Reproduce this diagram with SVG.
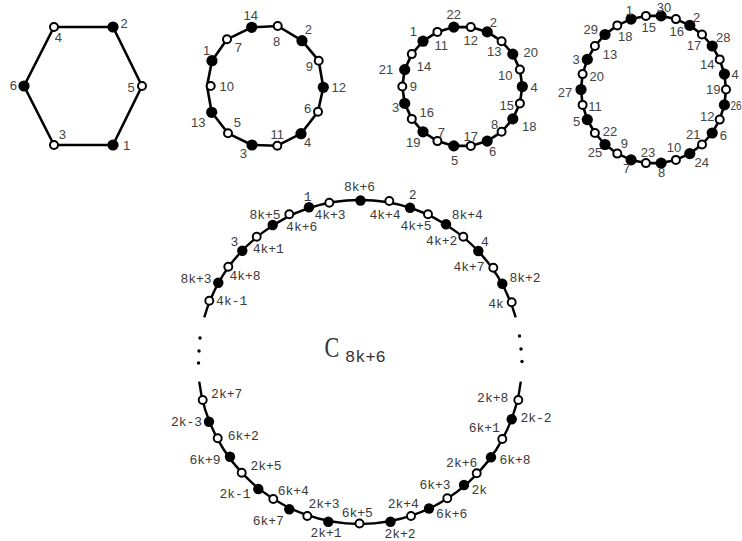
<svg xmlns="http://www.w3.org/2000/svg" xmlns:xlink="http://www.w3.org/1999/xlink" width="742" height="541" viewBox="0 0 742 541">
<defs>
<style>
.e{fill:none;stroke:#000;stroke-width:2.6;stroke-linejoin:round}
.eb{fill:none;stroke:#000;stroke-width:2.4}
.s{font-family:"Liberation Sans",Arial,sans-serif;font-size:13px;fill:#444;text-anchor:middle}
.m{font-family:"Liberation Mono","Courier New",monospace;font-size:13px;fill:#3a3a3a;text-anchor:middle}
.t{font-family:"Liberation Mono","Courier New",monospace;fill:#333}
</style>
<circle id="F" r="5.6" fill="#000"/>
<circle id="O" r="4" fill="#fff" stroke="#000" stroke-width="2"/>
<circle id="f" r="5.2" fill="#000"/>
<circle id="o" r="4" fill="#fff" stroke="#000" stroke-width="1.9"/>
</defs>
<rect width="742" height="541" fill="#fff"/>
<g id="connectors">
<polygon class="e" points="113,27 142,86 113,145 54,145 24,86 54,27"/>
<polygon class="e" points="251.7,27.3 277.7,26 302,40.7 318.7,60.7 323.3,87.3 318,111.7 301,133.7 277.3,145.7 252,145 228,133.3 211.7,112.3 207,86 212,60.7 227,39.3"/>
<polygon class="e" points="522.3,86.5 519.9,69.6 512.8,54.1 501.6,41.2 487.2,31.9 470.8,27.1 453.8,27.1 437.4,31.9 423,41.2 411.8,54.1 404.7,69.6 402.3,86.5 404.7,103.4 411.8,118.9 423,131.8 437.4,141.1 453.8,145.9 470.8,145.9 487.2,141.1 501.6,131.8 512.8,118.9 519.9,103.4"/>
<polygon class="e" points="726,89.5 724.4,74.1 719.7,59.4 712.2,46 702,34.5 689.8,25.4 675.9,19.1 661.1,15.9 645.9,15.9 631.1,19.1 617.3,25.4 605,34.5 594.9,46 587.3,59.4 582.6,74.1 581,89.5 582.6,104.9 587.3,119.6 594.9,133 605,144.5 617.3,153.6 631.1,159.9 645.9,163.1 661.1,163.1 675.9,159.9 689.8,153.6 702,144.5 712.2,133 719.7,119.6 724.4,104.9"/>
<path class="eb" d="M204.3,317.3 A162,162 0 0 1 515.7,317.3"/>
<path class="eb" d="M520.8,381.7 A162,162 0 0 1 199.2,381.7"/>
<g fill="#000">
<circle cx="200" cy="338" r="1.7"/><circle cx="199" cy="351" r="1.7"/><circle cx="198.5" cy="363" r="1.7"/>
<circle cx="519.5" cy="336" r="1.7"/><circle cx="521" cy="349" r="1.7"/><circle cx="522" cy="361.5" r="1.7"/>
</g>
</g>
<g id="c6">
<g id="a2"><use href="#F" x="113" y="27"/><text class="s" x="124" y="28">2</text></g>
<g id="a5"><use href="#O" x="142" y="86"/><text class="s" x="131" y="92">5</text></g>
<g id="a1"><use href="#F" x="113" y="145"/><text class="s" x="126.7" y="150">1</text></g>
<g id="a3"><use href="#O" x="54" y="145"/><text class="s" x="62.3" y="138.5">3</text></g>
<g id="a6"><use href="#F" x="24" y="86"/><text class="s" x="13.3" y="90">6</text></g>
<g id="a4"><use href="#O" x="54" y="27"/><text class="s" x="58.3" y="42">4</text></g>
</g>
<g id="c14">
<g id="b14"><use href="#F" x="251.7" y="27.3"/><text class="s" x="250.7" y="19.6">14</text></g>
<g id="b8"><use href="#O" x="277.7" y="26"/><text class="s" x="276.7" y="45.6">8</text></g>
<g id="b2"><use href="#F" x="302" y="40.7"/><text class="s" x="308.3" y="34">2</text></g>
<g id="b9"><use href="#O" x="318.7" y="60.7"/><text class="s" x="309.3" y="71.3">9</text></g>
<g id="b12"><use href="#F" x="323.3" y="87.3"/><text class="s" x="338.7" y="92">12</text></g>
<g id="b6"><use href="#O" x="318" y="111.7"/><text class="s" x="307.7" y="113.3">6</text></g>
<g id="b4"><use href="#F" x="301" y="133.7"/><text class="s" x="307.7" y="147.3">4</text></g>
<g id="b11"><use href="#O" x="277.3" y="145.7"/><text class="s" x="277.3" y="139">11</text></g>
<g id="b3"><use href="#F" x="252" y="145"/><text class="s" x="243.3" y="158">3</text></g>
<g id="b5"><use href="#O" x="228" y="133.3"/><text class="s" x="237.3" y="127">5</text></g>
<g id="b13"><use href="#F" x="211.7" y="112.3"/><text class="s" x="198.3" y="127.3">13</text></g>
<g id="b10"><use href="#O" x="210.7" y="86"/><text class="s" x="226.7" y="91.3">10</text></g>
<g id="b1"><use href="#F" x="212" y="60.7"/><text class="s" x="206.7" y="54.6">1</text></g>
<g id="b7"><use href="#O" x="227" y="39.3"/><text class="s" x="238.3" y="52">7</text></g>
</g>
<g id="c22">
<g id="d4"><use href="#F" x="522.3" y="86.5"/><text class="s" x="534" y="92">4</text></g>
<g id="d10"><use href="#O" x="519.9" y="69.6"/><text class="s" x="505.3" y="80.3">10</text></g>
<g id="d20"><use href="#F" x="512.8" y="54.1"/><text class="s" x="530.7" y="57">20</text></g>
<g id="d13"><use href="#O" x="501.6" y="41.2"/><text class="s" x="494.3" y="56">13</text></g>
<g id="d2"><use href="#F" x="487.2" y="31.9"/><text class="s" x="493.3" y="26.6">2</text></g>
<g id="d12"><use href="#O" x="470.8" y="27.1"/><text class="s" x="470.7" y="45.3">12</text></g>
<g id="d22"><use href="#F" x="453.8" y="27.1"/><text class="s" x="453.7" y="19">22</text></g>
<g id="d11"><use href="#O" x="437.4" y="31.9"/><text class="s" x="441.3" y="50">11</text></g>
<g id="d1"><use href="#F" x="423" y="41.2"/><text class="s" x="413.3" y="35.6">1</text></g>
<g id="d14"><use href="#O" x="411.8" y="54.1"/><text class="s" x="424" y="71.3">14</text></g>
<g id="d21"><use href="#F" x="404.7" y="69.6"/><text class="s" x="386" y="74">21</text></g>
<g id="d9"><use href="#O" x="402.3" y="86.5"/><text class="s" x="413.3" y="91.3">9</text></g>
<g id="d3"><use href="#F" x="404.7" y="103.4"/><text class="s" x="395.7" y="112.3">3</text></g>
<g id="d16"><use href="#O" x="411.8" y="118.9"/><text class="s" x="426.7" y="117.3">16</text></g>
<g id="d19"><use href="#F" x="423" y="131.8"/><text class="s" x="413.3" y="146.6">19</text></g>
<g id="d7"><use href="#O" x="437.4" y="141.1"/><text class="s" x="441.3" y="136.6">7</text></g>
<g id="d5"><use href="#F" x="453.8" y="145.9"/><text class="s" x="454.7" y="164.6">5</text></g>
<g id="d17"><use href="#O" x="470.8" y="145.9"/><text class="s" x="470.7" y="141.3">17</text></g>
<g id="d6"><use href="#F" x="487.2" y="141.1"/><text class="s" x="492.7" y="156.3">6</text></g>
<g id="d8"><use href="#O" x="501.6" y="131.8"/><text class="s" x="494.7" y="129.3">8</text></g>
<g id="d18"><use href="#F" x="512.8" y="118.9"/><text class="s" x="529.3" y="130.6">18</text></g>
<g id="d15"><use href="#O" x="519.9" y="103.4"/><text class="s" x="506.7" y="109.6">15</text></g>
</g>
<g id="c30">
<g id="g19"><use href="#O" x="726" y="89.5"/><text class="s" x="713.3" y="94">19</text></g>
<g id="g4"><use href="#F" x="724.4" y="74.1"/><text class="s" x="735" y="78.6">4</text></g>
<g id="g14"><use href="#O" x="719.7" y="59.4"/><text class="s" x="707.3" y="69">14</text></g>
<g id="g28"><use href="#F" x="712.2" y="46"/><text class="s" x="723.3" y="42">28</text></g>
<g id="g17"><use href="#O" x="702" y="34.5"/><text class="s" x="694" y="50.3">17</text></g>
<g id="g2"><use href="#F" x="689.8" y="25.4"/><text class="s" x="696.7" y="22">2</text></g>
<g id="g16"><use href="#O" x="675.9" y="19.1"/><text class="s" x="676.7" y="36.3">16</text></g>
<g id="g30"><use href="#F" x="661.1" y="15.9"/><text class="s" x="664" y="12">30</text></g>
<g id="g15"><use href="#O" x="645.9" y="15.9"/><text class="s" x="648.7" y="32.3">15</text></g>
<g id="g1"><use href="#F" x="631.1" y="19.1"/><text class="s" x="629.3" y="14.6">1</text></g>
<g id="g18"><use href="#O" x="617.3" y="25.4"/><text class="s" x="625.3" y="41.3">18</text></g>
<g id="g29"><use href="#F" x="605" y="34.5"/><text class="s" x="590.7" y="34">29</text></g>
<g id="g13"><use href="#O" x="594.9" y="46"/><text class="s" x="610" y="59">13</text></g>
<g id="g3"><use href="#F" x="587.3" y="59.4"/><text class="s" x="576" y="64">3</text></g>
<g id="g20"><use href="#O" x="582.6" y="74.1"/><text class="s" x="596.7" y="81.3">20</text></g>
<g id="g27"><use href="#F" x="581" y="89.5"/><text class="s" x="565" y="97.3">27</text></g>
<g id="g11"><use href="#O" x="582.6" y="104.9"/><text class="s" x="595" y="111.3">11</text></g>
<g id="g5"><use href="#F" x="587.3" y="119.6"/><text class="s" x="576.7" y="126.3">5</text></g>
<g id="g22"><use href="#O" x="594.9" y="133"/><text class="s" x="610" y="136.3">22</text></g>
<g id="g25"><use href="#F" x="605" y="144.5"/><text class="s" x="595" y="157.3">25</text></g>
<g id="g9"><use href="#O" x="617.3" y="153.6"/><text class="s" x="624.3" y="148">9</text></g>
<g id="g7"><use href="#F" x="631.1" y="159.9"/><text class="s" x="626.7" y="173">7</text></g>
<g id="g23"><use href="#O" x="645.9" y="163.1"/><text class="s" x="648" y="157.3">23</text></g>
<g id="g8"><use href="#F" x="661.1" y="163.1"/><text class="s" x="661.7" y="177.3">8</text></g>
<g id="g10"><use href="#O" x="675.9" y="159.9"/><text class="s" x="674" y="152.3">10</text></g>
<g id="g24"><use href="#F" x="689.8" y="153.6"/><text class="s" x="701.7" y="167">24</text></g>
<g id="g21"><use href="#O" x="702" y="144.5"/><text class="s" x="693.3" y="138.6">21</text></g>
<g id="g6"><use href="#F" x="712.2" y="133"/><text class="s" x="723.3" y="139.6">6</text></g>
<g id="g12"><use href="#O" x="719.7" y="119.6"/><text class="s" x="707.3" y="120.6">12</text></g>
<g id="g26"><use href="#F" x="724.4" y="104.9"/><text class="s" x="730.5" y="110.3" font-size="12" text-anchor="start" textLength="11" lengthAdjust="spacingAndGlyphs" style="text-anchor:start">26</text></g>
</g>
<g id="cbig">
<g id="n8k6"><use href="#f" x="360.5" y="200.5"/><text class="m" x="359.5" y="191.3">8k+6</text></g>
<g id="n4k3"><use href="#o" x="329.3" y="202.7"/><text class="m" x="330" y="219.3">4k+3</text></g>
<g id="n1"><use href="#f" x="309" y="207.3"/><text class="m" x="307.7" y="201">1</text></g>
<g id="n4k6"><use href="#o" x="289.3" y="214.3"/><text class="m" x="301.7" y="231">4k+6</text></g>
<g id="n8k5"><use href="#f" x="272.7" y="225"/><text class="m" x="265" y="219.3">8k+5</text></g>
<g id="n4k1"><use href="#o" x="256.7" y="236.7"/><text class="m" x="268.3" y="252.6">4k+1</text></g>
<g id="n3"><use href="#f" x="242.3" y="250.7"/><text class="m" x="234.3" y="246">3</text></g>
<g id="n4k8"><use href="#o" x="228.3" y="266.7"/><text class="m" x="245" y="280">4k+8</text></g>
<g id="n8k3"><use href="#f" x="218.3" y="282.7"/><text class="m" x="196" y="283.3">8k+3</text></g>
<g id="n4km1"><use href="#o" x="209.3" y="300.7"/><text class="m" x="231.7" y="305.3">4k-1</text></g>
<g id="n4k4"><use href="#o" x="389.3" y="201"/><text class="m" x="385" y="219.3">4k+4</text></g>
<g id="n2"><use href="#f" x="410" y="207.7"/><text class="m" x="412.7" y="199.3">2</text></g>
<g id="n4k5"><use href="#o" x="428" y="214.3"/><text class="m" x="416" y="230">4k+5</text></g>
<g id="n8k4"><use href="#f" x="446" y="224.3"/><text class="m" x="467.3" y="219.3">8k+4</text></g>
<g id="n4k2"><use href="#o" x="463.3" y="236.7"/><text class="m" x="441.7" y="245.3">4k+2</text></g>
<g id="n4"><use href="#f" x="478.3" y="251"/><text class="m" x="485" y="246">4</text></g>
<g id="n4k7"><use href="#o" x="493.3" y="267.7"/><text class="m" x="469" y="271">4k+7</text></g>
<g id="n8k2"><use href="#f" x="502.3" y="283.7"/><text class="m" x="525" y="282">8k+2</text></g>
<g id="n4k"><use href="#o" x="511.7" y="302.3"/><text class="m" x="496" y="307.6">4k</text></g>
<g id="n2k7"><use href="#o" x="202.7" y="400"/><text class="m" x="226.7" y="398.3">2k+7</text></g>
<g id="n2km3"><use href="#f" x="209" y="421.7"/><text class="m" x="186.5" y="426">2k-3</text></g>
<g id="n6k2"><use href="#o" x="217.7" y="438.3"/><text class="m" x="243.3" y="440.3">6k+2</text></g>
<g id="n6k9"><use href="#f" x="230" y="456.7"/><text class="m" x="205" y="463.6">6k+9</text></g>
<g id="n2k5"><use href="#o" x="241.7" y="472.7"/><text class="m" x="266" y="470.3">2k+5</text></g>
<g id="n2km1"><use href="#f" x="258.3" y="489"/><text class="m" x="235" y="497.6">2k-1</text></g>
<g id="n6k4"><use href="#o" x="273.3" y="499"/><text class="m" x="293.3" y="495">6k+4</text></g>
<g id="n6k7"><use href="#f" x="289.3" y="509.3"/><text class="m" x="268.3" y="525">6k+7</text></g>
<g id="n2k3"><use href="#o" x="307.3" y="516"/><text class="m" x="324" y="508.3">2k+3</text></g>
<g id="n2k1"><use href="#f" x="328.3" y="521.7"/><text class="m" x="326" y="537.3">2k+1</text></g>
<g id="n6k5"><use href="#o" x="359.5" y="523.5"/><text class="m" x="357.3" y="517">6k+5</text></g>
<g id="n2k2"><use href="#f" x="390.5" y="521.7"/><text class="m" x="400" y="537.6">2k+2</text></g>
<g id="n2k4"><use href="#o" x="411" y="516"/><text class="m" x="403.3" y="508.3">2k+4</text></g>
<g id="n6k6"><use href="#f" x="429" y="508.5"/><text class="m" x="451.7" y="517.6">6k+6</text></g>
<g id="n6k3"><use href="#o" x="447.3" y="498.3"/><text class="m" x="435" y="489.3">6k+3</text></g>
<g id="n2k"><use href="#f" x="464" y="485"/><text class="m" x="479.3" y="493.6">2k</text></g>
<g id="n2k6"><use href="#o" x="476.7" y="473.3"/><text class="m" x="461.7" y="467">2k+6</text></g>
<g id="n6k8"><use href="#f" x="491" y="457.3"/><text class="m" x="515" y="463.6">6k+8</text></g>
<g id="n6k1"><use href="#o" x="502.3" y="439"/><text class="m" x="484.3" y="431.6">6k+1</text></g>
<g id="n2km2"><use href="#f" x="511.7" y="419.3"/><text class="m" x="536" y="422.3">2k-2</text></g>
<g id="n2k8"><use href="#o" x="518.3" y="400"/><text class="m" x="492.7" y="401.6">2k+8</text></g>
</g>
<g id="title">
<text transform="translate(324.5,357) scale(0.74,1)" font-family="'Liberation Serif','Times New Roman',serif" font-size="30" fill="#333">C</text>
<text class="t" x="345" y="362" font-size="17">8k+6</text>
</g>
</svg>
